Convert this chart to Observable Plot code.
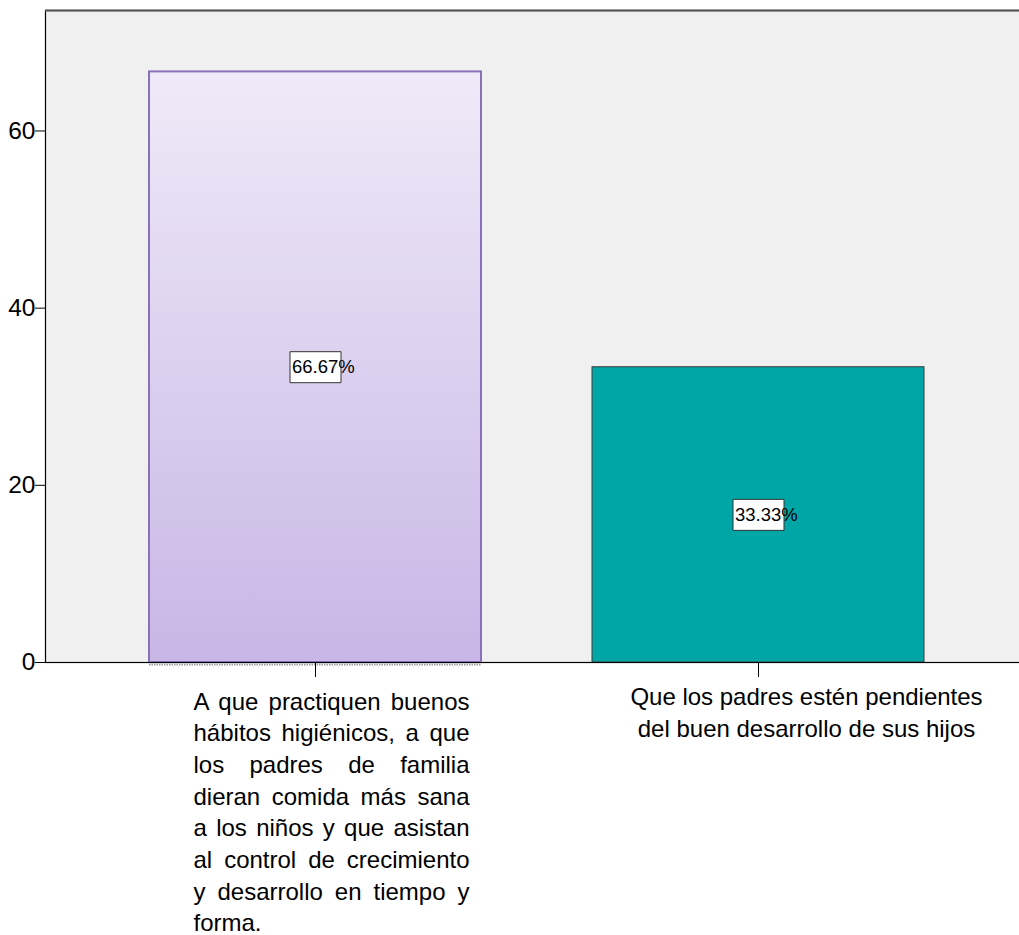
<!DOCTYPE html>
<html>
<head>
<meta charset="utf-8">
<script src="https://cdn.jsdelivr.net/npm/d3@7"></script>
<script src="https://cdn.jsdelivr.net/npm/@observablehq/plot@0.6"></script>
<style>
  body { margin: 0; background: #fff; }
  #chart svg { display: block; }
</style>
</head>
<body>
<div id="chart"></div>
<script>
const categories = [
  "A que practiquen buenos hábitos higiénicos, a que los padres de familia dieran comida más sana a los niños y que asistan al control de crecimiento y desarrollo en tiempo y forma.",
  "Que los padres estén pendientes del buen desarrollo de sus hijos"
];
const percents = [66.67, 33.33];
const labelLines = [
  ["A que practiquen buenos", "hábitos higiénicos, a que", "los padres de familia", "dieran comida más sana", "a los niños y que asistan", "al control de crecimiento", "y desarrollo en tiempo y", "forma."],
  ["Que los padres estén pendientes", "del buen desarrollo de sus hijos"]
];
const yTicks = [0, 20, 40, 60];
const yMax = 73.6;

const data = categories.map((c, i) => ({category: c, value: percents[i], label: labelLines[i].join("\n")}));
const fmt = d3.format(".2f");
const FONT = "Liberation Sans, Arial, Helvetica, sans-serif";

const boxSymbol = {
  draw(context) {
    context.moveTo(-25.5, -15.5);
    context.lineTo(25.5, -15.5);
    context.lineTo(25.5, 15.5);
    context.lineTo(-25.5, 15.5);
    context.closePath();
  }
};

const plot = Plot.plot({
  width: 1019,
  height: 935,
  marginLeft: 45,
  marginTop: 10,
  marginBottom: 273,
  marginRight: -10,
  style: {fontFamily: FONT, background: "#fff", color: "#000", overflow: "hidden"},
  x: {domain: categories, paddingInner: 0.25, paddingOuter: 0.2345, axis: null},
  y: {domain: [0, yMax], axis: null},
  marks: [
    Plot.frame({fill: "#f0f0f0", stroke: "#000", strokeWidth: 1.2}),
    Plot.ruleY([yMax], {stroke: "#555", strokeWidth: 2}),
    Plot.barY([data[0]], {x: "category", y: "value", fill: "url(#lavGrad)", stroke: "#8a70b9", strokeWidth: 2}),
    Plot.barY([data[1]], {x: "category", y: "value", fill: "#00a6a6", stroke: "#3a3a3a", strokeWidth: 1}),
    Plot.tickY([data[0]], {x: "category", y: 0, stroke: "#9a9a9a", strokeWidth: 2, strokeDasharray: "1.5,1", dy: 2}),
    Plot.ruleY([0], {stroke: "#000", strokeWidth: 1.2}),
    Plot.axisY({ticks: yTicks, tickSize: 10, tickPadding: 0, fontSize: 24.5, anchor: "left", tickFormat: d => String(d), label: null}),
    Plot.axisX({tickSize: 15, tickFormat: () => "", label: null, anchor: "bottom"}),
    Plot.dot(data, {x: "category", y: d => d.value / 2, symbol: boxSymbol, fill: "#fff", stroke: "#333", strokeWidth: 1}),
    Plot.text(data, {x: "category", y: d => d.value / 2, text: d => fmt(d.value) + "%", textAnchor: "start", dx: -23.5, fontSize: 18.5, fill: "#000"}),
    Plot.text([data[0]], {x: "category", frameAnchor: "bottom", text: "label", textAnchor: "start", lineAnchor: "top", dx: -122, dy: 24.8, lineHeight: 1.318, fontSize: 24, fill: "#000"}),
    Plot.text([data[1]], {x: "category", frameAnchor: "bottom", text: "label", textAnchor: "middle", lineAnchor: "top", dx: 48, dy: 19.8, lineHeight: 1.34, fontSize: 24, fill: "#000"})
  ]
});

// gradient definition for the first bar
const ns = "http://www.w3.org/2000/svg";
const defs = document.createElementNS(ns, "defs");
const grad = document.createElementNS(ns, "linearGradient");
grad.setAttribute("id", "lavGrad");
grad.setAttribute("x1", "0"); grad.setAttribute("y1", "0");
grad.setAttribute("x2", "0"); grad.setAttribute("y2", "1");
[["0%", "#efeaf8"], ["100%", "#c8b6e6"]].forEach(([o, c]) => {
  const s = document.createElementNS(ns, "stop");
  s.setAttribute("offset", o); s.setAttribute("stop-color", c);
  grad.appendChild(s);
});
defs.appendChild(grad);
plot.insertBefore(defs, plot.firstChild);

document.getElementById("chart").appendChild(plot);

// justify the multi-line label of the first category (all lines but the last)
const justifyWidth = 276;
const justifyLines = new Set(labelLines[0].slice(0, -1));
Array.from(plot.querySelectorAll("tspan")).forEach(sp => {
  const txt = sp.textContent;
  if (!justifyLines.has(txt)) return;
  const words = txt.split(" ");
  if (words.length < 2) return;
  const w = sp.getComputedTextLength();
  const extra = (justifyWidth - w) / (words.length - 1);
  sp.textContent = "";
  words.forEach((word, i) => {
    const part = document.createElementNS(ns, "tspan");
    part.textContent = i < words.length - 1 ? word + " " : word;
    if (i > 0) part.setAttribute("dx", extra.toFixed(2));
    sp.appendChild(part);
  });
});
</script>
</body>
</html>
